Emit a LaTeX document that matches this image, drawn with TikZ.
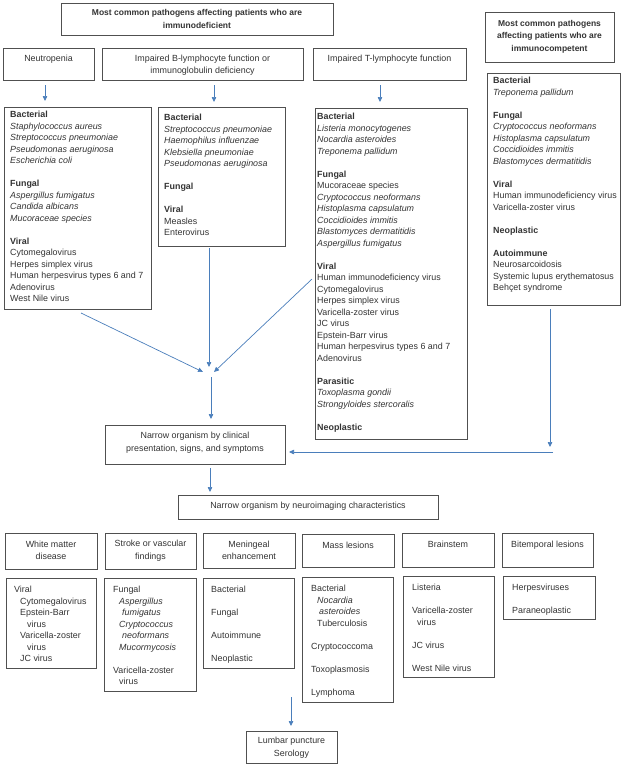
\documentclass[tikz,border=0pt]{standalone}
\usepackage{fontspec}
\setmainfont{Liberation Sans}
\usetikzlibrary{arrows.meta,fit}
\definecolor{boxc}{HTML}{505050}
\definecolor{txtc}{HTML}{333333}
\definecolor{arrc}{HTML}{4A7EBB}
\begin{document}
\begin{tikzpicture}[x=1pt,y=-1pt,
  every node/.style={text=txtc},
  box/.style={draw=boxc, line width=0.9pt, inner sep=0pt},
  hdr/.style={align=center, inner sep=0pt, font=\fontsize{8.9}{12.5}\selectfont},
  bhdr/.style={align=center, inner sep=0pt, font=\fontsize{8.5}{12.5}\selectfont\bfseries},
  lst/.style={align=left, anchor=north west, inner sep=0pt, font=\fontsize{8.9}{11.5}\selectfont},
  conn/.style={draw=arrc, line width=0.7pt, -{Triangle[length=5pt,width=4.5pt]}}]
\useasboundingbox (0,0) rectangle (625,766);

% ---------- top headers ----------
\node[box, fit={(61,3) (333,35)}] (topA) {};
\node[bhdr] (topAt) at (197,19) {Most common pathogens affecting patients who are\\immunodeficient};
\node[box, fit={(485,12) (614,62)}] (topB) {};
\node[bhdr] (topBt) at (549.5,36.5) {Most common pathogens\\affecting patients who are\\immunocompetent};

\node[box, fit={(3,48) (94,80)}] (neut) {};
\node[hdr] (neutt) at (48.5,59) {Neutropenia};
\node[box, fit={(102,48) (303,80)}] (bcell) {};
\node[hdr] (bcellt) at (202.5,65) {Impaired B-lymphocyte function or\\immunoglobulin deficiency};
\node[box, fit={(313,48) (466,80)}] (tcell) {};
\node[hdr] (tcellt) at (389.5,59) {Impaired T-lymphocyte function};

% ---------- lists ----------
\node[box, fit={(4,107) (151,309)}] (neutL) {};
\node[lst] (neutLt) at (10,111) {\textbf{Bacterial}\\
\textit{Staphylococcus aureus}\\
\textit{Streptococcus pneumoniae}\\
\textit{Pseudomonas aeruginosa}\\
\textit{Escherichia coli}\\[11.5pt]
\textbf{Fungal}\\
\textit{Aspergillus fumigatus}\\
\textit{Candida albicans}\\
\textit{Mucoraceae species}\\[11.5pt]
\textbf{Viral}\\
Cytomegalovirus\\
Herpes simplex virus\\
Human herpesvirus types 6 and 7\\
Adenovirus\\
West Nile virus};

\node[box, fit={(158,107) (285,246)}] (bcellL) {};
\node[lst] (bcellLt) at (164,114) {\textbf{Bacterial}\\
\textit{Streptococcus pneumoniae}\\
\textit{Haemophilus influenzae}\\
\textit{Klebsiella pneumoniae}\\
\textit{Pseudomonas aeruginosa}\\[11.5pt]
\textbf{Fungal}\\[11.5pt]
\textbf{Viral}\\
Measles\\
Enterovirus};

\node[box, fit={(315,108) (467,439)}] (tcellL) {};
\node[lst] (tcellLt) at (317,113) {\textbf{Bacterial}\\
\textit{Listeria monocytogenes}\\
\textit{Nocardia asteroides}\\
\textit{Treponema pallidum}\\[11.5pt]
\textbf{Fungal}\\
Mucoraceae species\\
\textit{Cryptococcus neoformans}\\
\textit{Histoplasma capsulatum}\\
\textit{Coccidioides immitis}\\
\textit{Blastomyces dermatitidis}\\
\textit{Aspergillus fumigatus}\\[11.5pt]
\textbf{Viral}\\
Human immunodeficiency virus\\
Cytomegalovirus\\
Herpes simplex virus\\
Varicella-zoster virus\\
JC virus\\
Epstein-Barr virus\\
Human herpesvirus types 6 and 7\\
Adenovirus\\[11.5pt]
\textbf{Parasitic}\\
\textit{Toxoplasma gondii}\\
\textit{Strongyloides stercoralis}\\[11.5pt]
\textbf{Neoplastic}};

\node[box, fit={(487,73) (620,305)}] (immL) {};
\node[lst] (immLt) at (493,77) {\textbf{Bacterial}\\
\textit{Treponema pallidum}\\[11.5pt]
\textbf{Fungal}\\
\textit{Cryptococcus neoformans}\\
\textit{Histoplasma capsulatum}\\
\textit{Coccidioides immitis}\\
\textit{Blastomyces dermatitidis}\\[11.5pt]
\textbf{Viral}\\
Human immunodeficiency virus\\
Varicella-zoster virus\\[11.5pt]
\textbf{Neoplastic}\\[11.5pt]
\textbf{Autoimmune}\\
Neurosarcoidosis\\
Systemic lupus erythematosus\\
Behçet syndrome};

% ---------- middle ----------
\node[box, fit={(105,425) (285,464)}] (clin) {};
\node[hdr] (clint) at (195,442.5) {Narrow organism by clinical\\presentation, signs, and symptoms};
\node[box, fit={(178,495) (438,519)}] (neuro) {};
\node[hdr] (neurot) at (308,506) {Narrow organism by neuroimaging characteristics};

% ---------- bottom headers ----------
\node[box, fit={(5,533) (97,569)}] (wm) {};
\node[hdr] (wmt) at (51,550.5) {White matter\\disease};
\node[box, fit={(105,533) (196,569)}] (st) {};
\node[hdr] (stt) at (150.5,550.5) {Stroke or vascular\\findings};
\node[box, fit={(203,533) (295,568)}] (me) {};
\node[hdr] (met) at (249,550.5) {Meningeal\\enhancement};
\node[box, fit={(302,534) (394,567)}] (ma) {};
\node[hdr] (mat) at (348,545) {Mass lesions};
\node[box, fit={(402,533) (494,567)}] (bs) {};
\node[hdr] (bst) at (448,544) {Brainstem};
\node[box, fit={(502,533) (593,567)}] (bt) {};
\node[hdr] (btt) at (547.5,545) {Bitemporal lesions};

% ---------- bottom lists ----------
\node[box, fit={(6,578) (96,668)}] (wmL) {};
\node[lst] (wmLt) at (14,586) {Viral\\
\hspace{6pt}Cytomegalovirus\\
\hspace{6pt}Epstein-Barr\\
\hspace{13pt}virus\\
\hspace{6pt}Varicella-zoster\\
\hspace{13pt}virus\\
\hspace{6pt}JC virus};

\node[box, fit={(104,578) (196,691)}] (stL) {};
\node[lst] (stLt) at (113,586) {Fungal\\
\hspace{6pt}\textit{Aspergillus}\\
\hspace{9pt}\textit{fumigatus}\\
\hspace{6pt}\textit{Cryptococcus}\\
\hspace{9pt}\textit{neoformans}\\
\hspace{6pt}\textit{Mucormycosis}\\[11.5pt]
Varicella-zoster\\
\hspace{6pt}virus};

\node[box, fit={(203,578) (294,668)}] (meL) {};
\node[lst] (meLt) at (211,586) {Bacterial\\[11.5pt]
Fungal\\[11.5pt]
Autoimmune\\[11.5pt]
Neoplastic};

\node[box, fit={(302,577) (393,702)}] (maL) {};
\node[lst] (maLt) at (311,585) {Bacterial\\
\hspace{6pt}\textit{Nocardia}\\
\hspace{8pt}\textit{asteroides}\\
\hspace{6pt}Tuberculosis\\[11.5pt]
Cryptococcoma\\[11.5pt]
Toxoplasmosis\\[11.5pt]
Lymphoma};

\node[box, fit={(403,576) (494,677)}] (bsL) {};
\node[lst] (bsLt) at (412,584) {Listeria\\[11.5pt]
Varicella-zoster\\
\hspace{5pt}virus\\[11.5pt]
JC virus\\[11.5pt]
West Nile virus};

\node[box, fit={(503,576) (595,619)}] (btL) {};
\node[lst] (btLt) at (512,584) {Herpesviruses\\[11.5pt]
Paraneoplastic};

\node[box, fit={(246,731) (337,763)}] (lp) {};
\node[hdr] (lpt) at (291.5,747.5) {Lumbar puncture\\Serology};

% ---------- connector end points ----------
\coordinate (n1) at (45,85);   \coordinate (n2) at (45,101);
\coordinate (b1) at (214,85);  \coordinate (b2) at (214,102);
\coordinate (t1) at (380,85);  \coordinate (t2) at (380,102);
\coordinate (m1s) at (81,313); \coordinate (m1e) at (203,372);
\coordinate (m2s) at (209,248);\coordinate (m2e) at (209,367);
\coordinate (m3s) at (312,279);\coordinate (m3e) at (214,372);
\coordinate (m4s) at (211,377);\coordinate (m4e) at (211,419);
\coordinate (i1) at (550,309); \coordinate (i2) at (550,447);
\coordinate (h1) at (553,452); \coordinate (h2) at (289,452);
\coordinate (c1) at (210,468); \coordinate (c2) at (210,492);
\coordinate (l1) at (291,697); \coordinate (l2) at (291,726);

\draw[conn] (n1) -- (n2);
\draw[conn] (b1) -- (b2);
\draw[conn] (t1) -- (t2);
\draw[conn] (m1s) -- (m1e);
\draw[conn] (m2s) -- (m2e);
\draw[conn] (m3s) -- (m3e);
\draw[conn] (m4s) -- (m4e);
\draw[conn] (i1) -- (i2);
\draw[conn] (h1) -- (h2);
\draw[conn] (c1) -- (c2);
\draw[conn] (l1) -- (l2);
\end{tikzpicture}
\end{document}
